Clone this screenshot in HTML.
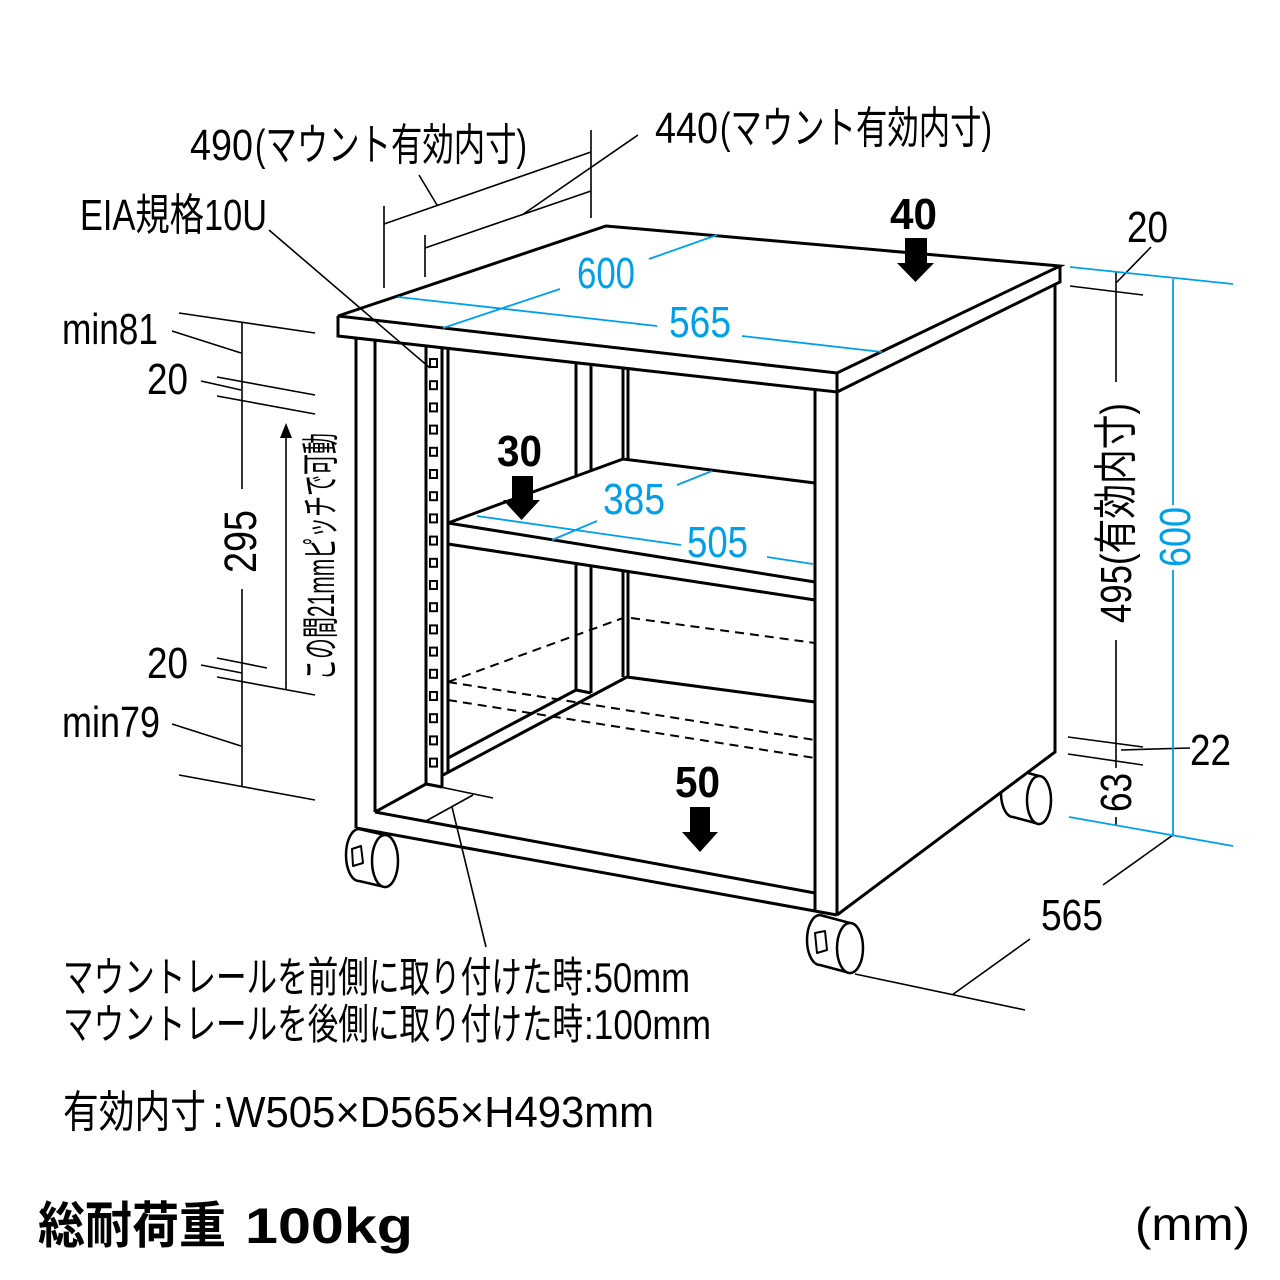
<!DOCTYPE html>
<html><head><meta charset="utf-8">
<style>
html,body{margin:0;padding:0;background:#fff;}
svg{display:block;}
text{font-family:"Liberation Sans","Noto Sans CJK JP",sans-serif;fill:#000;}
.b{fill:#00a0e9;}
.bold{font-weight:bold;}
</style></head><body>
<svg width="1280" height="1280" viewBox="0 0 1280 1280" xmlns="http://www.w3.org/2000/svg">
<rect width="1280" height="1280" fill="#fff"/>

<!-- wheels -->
<g stroke="#000" stroke-width="2.5" fill="#fff" stroke-linejoin="round">
  <path d="M359,829 L385,835 L385,887 L359,881 A13,26 0 0 1 359,829 Z"/>
  <ellipse cx="385" cy="861" rx="13" ry="26"/>
  <polygon points="352,849 361,846 363,863 353,866" fill="none" stroke-width="2"/>

  <path d="M820,915 L850,923 L850,973 L820,965 A13,25 0 0 1 820,915 Z"/>
  <ellipse cx="850" cy="948" rx="13" ry="25"/>
  <polygon points="815,933 825,931 827,950 817,953" fill="none" stroke-width="2"/>

  <path d="M1013,769 L1039,776 L1039,824 L1013,817 A12,24 0 0 1 1013,769 Z"/>
  <ellipse cx="1039" cy="800" rx="12" ry="24"/>
</g>
<!-- side panel white cover -->
<polygon points="837,392 1055,285 1055,752 837,915" fill="#fff"/>

<!-- main structure -->
<g stroke="#000" stroke-width="3" fill="none" stroke-linejoin="miter">
  <path d="M338,316 L606,226 L1060,266 L837,373 Z"/>
  <path d="M338,316 L338,336 L837,392 L837,373"/>
  <path d="M837,392 L1060,282 L1060,266"/>
  <path d="M356,338 V828 M375,340 V812"/>
  <path d="M426,346 V784 M442,348 V787 M448,349 V773"/>
  <path d="M448,523 L623,459 L815,483 M448,523 L815,582 M448,544 L815,600"/>
  <path d="M576,363 V476 M591,365 V470 M623,368 V459 M628,369 V460"/>
  <path d="M576,564 V690 M591,566 V693 M623,571 V677 M628,572 V677"/>
  <path d="M627,677 L815,702 M443,775 L627,677 M448,758 L576,690 L591,693"/>
  <path d="M375,812 L426,784 L442,787 M375,812 L815,893 M356,828 L837,915"/>
  <path d="M815,391 V912 M837,392 V915"/>
  <path d="M1055,285 V752 L837,915"/>
</g>

<!-- rack holes -->
<g stroke="#000" stroke-width="2" fill="#fff">
  <rect x="430" y="359" width="7" height="8"/>
  <rect x="430" y="381.2" width="7" height="8"/>
  <rect x="430" y="403.4" width="7" height="8"/>
  <rect x="430" y="425.6" width="7" height="8"/>
  <rect x="430" y="447.8" width="7" height="8"/>
  <rect x="430" y="470" width="7" height="8"/>
  <rect x="430" y="492.2" width="7" height="8"/>
  <rect x="430" y="514.4" width="7" height="8"/>
  <rect x="430" y="536.6" width="7" height="8"/>
  <rect x="430" y="558.8" width="7" height="8"/>
  <rect x="430" y="581" width="7" height="8"/>
  <rect x="430" y="603.2" width="7" height="8"/>
  <rect x="430" y="625.4" width="7" height="8"/>
  <rect x="430" y="647.6" width="7" height="8"/>
  <rect x="430" y="669.8" width="7" height="8"/>
  <rect x="430" y="692" width="7" height="8"/>
  <rect x="430" y="714.2" width="7" height="8"/>
  <rect x="430" y="736.4" width="7" height="8"/>
  <rect x="430" y="758.6" width="7" height="8"/>
</g>

<!-- dashed -->
<g stroke="#000" stroke-width="2" fill="none" stroke-dasharray="9 6">
  <path d="M448,682 L623,618"/>
  <path d="M631,618 L815,643"/>
  <path d="M448,682 L815,740"/>
  <path d="M448,700 L815,758"/>
</g>

<!-- thin black dimension lines -->
<g stroke="#000" stroke-width="1.6" fill="none">
  <path d="M384,206 V288 M591,130 V218 M384,224 L591,152 M419,175 L437,205"/>
  <path d="M425,235 V277 M425,248 L591,191 M638,135 L522,215"/>
  <path d="M269,230 L430,368"/>
  <path d="M179,313 L315,333 M242,322 V489 M242,589 V787 M172,331 L241,353"/>
  <path d="M217,377 L315,395 M217,396 L315,414 M201,381 L241,390"/>
  <path d="M286,437 V689"/>
  <path d="M217,658 L267,668 M217,677 L315,695 M201,665 L242,673"/>
  <path d="M172,724 L241,746 M179,775 L315,800"/>
  <path d="M1070,286 L1143,295 M1116,271 V382 M1116,640 V768 M1116,817 V826 M1151,247 L1116,283"/>
  <path d="M1068,737 L1143,747 M1068,754 L1143,765 M1121,750 L1190,748"/>
  <path d="M855,974 L1025,1010 M952,995 L1030,939 M1103,885 L1173,835"/>
  <path d="M426,784 L493,798 M426,821 L473,795 M452,807 L486,947"/>
</g>
<polygon points="286,423 280,438 292,438" fill="#000"/>

<!-- blue dimension lines -->
<g stroke="#00a0e9" stroke-width="1.8" fill="none">
  <path d="M398,297 L657,326 M742,336 L882,352"/>
  <path d="M443,328 L560,289 M649,259 L717,235"/>
  <path d="M477,516 L681,545 M767,557 L813,564"/>
  <path d="M552,540 L597,521 M677,485 L712,471"/>
  <path d="M1070,267 L1233,284 M1069,817 L1233,846 M1173,279 V505 M1173,570 V835"/>
</g>

<!-- load arrows -->
<g fill="#000">
  <rect x="905" y="238" width="22" height="26"/>
  <polygon points="897,263 934,263 915.5,282"/>
  <rect x="512" y="476" width="21" height="25"/>
  <polygon points="503,500 540,500 521.5,520"/>
  <rect x="690" y="807" width="20" height="26"/>
  <polygon points="682,832 718,832 700,852"/>
</g>

<!-- texts -->
<text x="190" y="160" font-size="44" textLength="63" lengthAdjust="spacingAndGlyphs">490</text>
<text x="255" y="160" font-size="44" textLength="272" lengthAdjust="spacingAndGlyphs">(マウント有効内寸)</text>
<text x="655" y="143" font-size="44" textLength="63" lengthAdjust="spacingAndGlyphs">440</text>
<text x="720" y="143" font-size="44" textLength="272" lengthAdjust="spacingAndGlyphs">(マウント有効内寸)</text>
<text x="80" y="230" font-size="44" textLength="187" lengthAdjust="spacingAndGlyphs">EIA規格10U</text>
<text class="bold" x="890" y="229" font-size="44" textLength="47" lengthAdjust="spacingAndGlyphs">40</text>
<text x="1127" y="242" font-size="44" textLength="41" lengthAdjust="spacingAndGlyphs">20</text>
<text class="b" x="577" y="288" font-size="44" textLength="58" lengthAdjust="spacingAndGlyphs">600</text>
<text class="b" x="669" y="337" font-size="44" textLength="62" lengthAdjust="spacingAndGlyphs">565</text>
<text class="bold" x="497" y="466" font-size="44" textLength="45" lengthAdjust="spacingAndGlyphs">30</text>
<text class="b" x="603" y="514" font-size="44" textLength="62" lengthAdjust="spacingAndGlyphs">385</text>
<text class="b" x="687" y="557" font-size="44" textLength="61" lengthAdjust="spacingAndGlyphs">505</text>
<text class="bold" x="675" y="797" font-size="44" textLength="45" lengthAdjust="spacingAndGlyphs">50</text>
<text x="62" y="344" font-size="44" textLength="96" lengthAdjust="spacingAndGlyphs">min81</text>
<text x="147" y="394" font-size="44" textLength="41" lengthAdjust="spacingAndGlyphs">20</text>
<text x="147" y="678" font-size="44" textLength="41" lengthAdjust="spacingAndGlyphs">20</text>
<text x="62" y="737" font-size="44" textLength="98" lengthAdjust="spacingAndGlyphs">min79</text>
<text x="1190" y="765" font-size="44" textLength="41" lengthAdjust="spacingAndGlyphs">22</text>
<text x="1041" y="930" font-size="44" textLength="62" lengthAdjust="spacingAndGlyphs">565</text>

<text transform="translate(256,573) rotate(-90)" font-size="45" textLength="63" lengthAdjust="spacingAndGlyphs">295</text>
<text transform="translate(334,680) rotate(-90)" font-size="38" textLength="247" lengthAdjust="spacingAndGlyphs">この間21mmピッチで可動</text>
<text transform="translate(1131,623) rotate(-90)" font-size="44" textLength="220" lengthAdjust="spacingAndGlyphs">495(有効内寸)</text>
<text class="b" transform="translate(1190,567) rotate(-90)" font-size="44" textLength="60" lengthAdjust="spacingAndGlyphs">600</text>
<text transform="translate(1131,812) rotate(-90)" font-size="44" textLength="39" lengthAdjust="spacingAndGlyphs">63</text>

<text x="63" y="992" font-size="42" textLength="520" lengthAdjust="spacingAndGlyphs">マウントレールを前側に取り付けた時</text>
<text x="584" y="992" font-size="42" textLength="106" lengthAdjust="spacingAndGlyphs">:50mm</text>
<text x="63" y="1039" font-size="42" textLength="520" lengthAdjust="spacingAndGlyphs">マウントレールを後側に取り付けた時</text>
<text x="584" y="1039" font-size="42" textLength="127" lengthAdjust="spacingAndGlyphs">:100mm</text>
<text x="63" y="1127" font-size="44" textLength="143" lengthAdjust="spacingAndGlyphs">有効内寸</text>
<text x="212" y="1127" font-size="44">:</text>
<text x="226" y="1127" font-size="44" textLength="428" lengthAdjust="spacingAndGlyphs">W505×D565×H493mm</text>
<text class="bold" x="38" y="1243" font-size="50" textLength="188" lengthAdjust="spacingAndGlyphs">総耐荷重</text>
<text class="bold" x="245" y="1243" font-size="50" textLength="168" lengthAdjust="spacingAndGlyphs">100kg</text>
<text x="1135" y="1240" font-size="46" textLength="115" lengthAdjust="spacingAndGlyphs">(mm)</text>
</svg>
</body></html>
